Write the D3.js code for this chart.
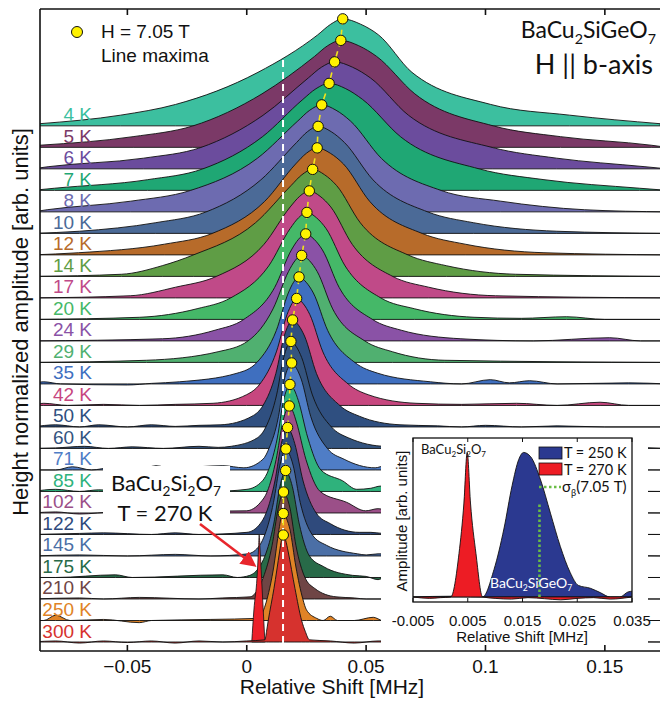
<!DOCTYPE html>
<html>
<head>
<meta charset="utf-8">
<script src="https://cdn.jsdelivr.net/npm/d3@7"></script>
<style>
  body { margin: 0; background: #fff; }
  svg { display: block; }
  text { font-family: "Liberation Sans", Arial, sans-serif; }
  .myr { font-family: Lato, "Liberation Sans", sans-serif; }
</style>
</head>
<body>
<div id="chart"></div>
<script>
const width = 660, height = 704;

// temperatures, colours and line maxima
const temps = ["4 K","5 K","6 K","7 K","8 K","10 K","12 K","14 K","17 K","20 K","24 K","29 K","35 K",
  "42 K","50 K","60 K","71 K","85 K","102 K","122 K","145 K","175 K","210 K","250 K","300 K"];
const colors = ["#3cbf9f","#7b3967","#6b4c9d","#1fa774","#6d6bb0","#4b6a97","#b76b2a","#5f9d45","#c04a88",
  "#45b868","#8a52a6","#50b070","#3f6fbf","#c7477f","#2f4f80","#34547f","#4f7dc6","#2fb27c","#9b4f88",
  "#2f4a7c","#4b6fa6","#286a48","#6f4545","#e08326","#d6322e"];
const peakShift = [0.0402,0.0394,0.0368,0.0345,0.0314,0.0299,0.0295,0.0276,0.0262,0.0252,0.0247,0.0230,
  0.0219,0.0209,0.0192,0.0185,0.0188,0.0181,0.0178,0.0171,0.0164,0.0163,0.0154,0.0153,0.0153];

// distance (MHz) from the maximum where each line drops to these fractions of its height
const levels = [0.95, 0.85, 0.5, 0.2, 0.1, 0.02];
const leftWidth = [
  [.005,.0105,.0355,.070,.093,.127],[.0055,.011,.033,.062,.087,.126],[.0055,.011,.030,.056,.080,.12],
  [.0055,.011,.028,.053,.076,.115],[.005,.010,.027,.055,.080,.115],[.0045,.009,.024,.047,.068,.10],
  [.0045,.009,.022,.044,.064,.10],[.0045,.009,.024,.050,.063,.080],[.004,.008,.019,.039,.056,.075],
  [.0035,.007,.016,.032,.046,.07],[.003,.006,.013,.026,.038,.06],[.0028,.0055,.012,.0225,.035,.065],
  [.0023,.0045,.0095,.0177,.026,.05],[.002,.004,.0085,.0154,.021,.035],[.0018,.0035,.007,.0124,.017,.030],
  [.0016,.003,.006,.0105,.014,.025],[.0016,.003,.0055,.0095,.012,.02],[.0014,.0027,.0053,.009,.0115,.018],
  [.0014,.0027,.0055,.0092,.012,.018],[.0013,.0026,.0053,.009,.0115,.017],[.0013,.0025,.0052,.0088,.011,.016],
  [.0012,.0024,.005,.0087,.011,.015],[.0011,.0022,.0048,.0085,.0105,.014],[.001,.0018,.004,.0068,.0082,.0105],
  [.0008,.0015,.0039,.0063,.0070,.0077]
];
const rightWidth = [
  [.0075,.015,.029,.062,.095,.133],[.0075,.015,.031,.064,.092,.13],[.0075,.015,.031,.066,.093,.13],
  [.007,.014,.030,.063,.090,.13],[.006,.012,.025,.050,.075,.11],[.0055,.011,.023,.046,.065,.10],
  [.0055,.011,.022,.044,.062,.095],[.005,.010,.020,.040,.056,.085],[.0045,.009,.018,.035,.050,.078],
  [.004,.008,.016,.031,.045,.07],[.0035,.007,.014,.028,.040,.065],[.0033,.0065,.013,.0265,.038,.06],
  [.003,.006,.012,.0234,.033,.055],[.0028,.0055,.011,.0216,.030,.05],[.0025,.005,.010,.0198,.028,.045],
  [.0023,.0045,.009,.017,.024,.04],[.002,.004,.008,.015,.022,.035],[.0018,.0035,.0075,.013,.022,.028],
  [.0015,.003,.007,.013,.024,.032],[.0015,.003,.0065,.012,.018,.03],[.0015,.003,.006,.011,.017,.03],
  [.0014,.0028,.0057,.010,.016,.028],[.0014,.0027,.0052,.009,.013,.022],[.0014,.0028,.0053,.0082,.0097,.014],
  [.001,.002,.0049,.0077,.0092,.011]
];
// small wiggles of the baseline [shift, fraction]
const ripples = [
  [],[],[],[],[],[],[],[],[],
  [[0.115,0.01],[0.134,0.025],[0.15,0.0]],
  [[0.12,0.0],[0.152,0.03],[0.165,0.0]],
  [],
  [[-0.085,0.02],[-0.078,0.0],[-0.05,-0.01],[-0.04,0.005],[0.09,0.0],[0.102,0.04],[0.11,0.01],[0.1185,0.03],[0.13,0.0],[0.16,0.01]],
  [[-0.085,0.02],[-0.075,0.0],[-0.06,0.01],[-0.045,0.0],[-0.03,0.01],[0.09,0.01],[0.113,0.02],[0.13,0.0],[0.148,0.03],[0.16,0.0]],
  [[-0.08,0.02],[-0.07,0.0],[-0.062,0.02],[-0.05,0.0],[-0.04,0.02],[-0.03,0.005],[-0.02,0.015],[0.08,0.01],[0.09,0.0],[0.1,0.015],[0.115,0.0],[0.13,0.01],[0.15,0.0]],
  [[-0.08,0.005],[-0.068,0.02],[-0.058,0.0],[-0.048,0.015],[-0.035,0.0],[-0.02,0.02],[-0.012,0.01],[0.065,0.03],[0.08,0.0],[0.1,0.01],[0.13,0.0],[0.16,0.01]],
  [[-0.08,0.0],[-0.073,0.03],[-0.065,0.0],[-0.057,0.02],[-0.045,0.0],[-0.038,0.04],[-0.031,0.01],[-0.02,0.03],[-0.01,0.04],[0.058,0.04],[0.063,0.01]],
  [[-0.08,0.02],[-0.07,0.0],[-0.062,0.015],[-0.05,0.0],[-0.03,0.01],[-0.015,0.0],[0.052,0.03],[0.056,0.05],[0.06,0.02]],
  [[-0.08,0.01],[-0.07,-0.01],[-0.055,0.01],[-0.04,0.0],[-0.02,0.015],[0.055,0.04],[0.06,0.02]],
  [[-0.07,0.01],[-0.06,0.015],[-0.04,0.0],[-0.03,0.015],[-0.02,0.0],[0.052,0.02],[0.057,0.01]],
  [[-0.07,0.01],[-0.05,0.0],[-0.03,0.015],[-0.015,0.0],[0.05,0.01],[0.055,0.02]],
  [[-0.08,0.0],[-0.055,0.025],[-0.048,0.0],[-0.01,0.025],[-0.004,0.0],[0.05,0.01],[0.055,-0.02],[0.058,0.0]],
  [[-0.07,0.01],[-0.06,0.0],[-0.045,0.015],[-0.02,0.0],[-0.01,0.01],[0.045,0.01],[0.05,0.0]],
  [[-0.085,0.0],[-0.08,0.05],[-0.074,0.0],[-0.06,0.01],[-0.045,-0.02],[-0.04,0.0],[-0.015,0.01],[0.032,0.0],[0.035,0.04],[0.038,0.0],[0.045,0.0],[0.053,0.03],[0.057,0.0]],
  [[-0.08,0.01],[-0.07,-0.01],[-0.06,0.01],[-0.05,-0.005],[-0.04,0.01],[-0.03,-0.01],[-0.02,0.01],[-0.01,0.0],[0.0,0.01],[0.035,0.01],[0.045,-0.01],[0.055,0.01]]
];
// BaCu2Si2O7 reference line at 270 K, drawn on the 300 K row
const refShift = [0.0021,0.0030,0.0043,0.0050,0.0052,0.0055,0.0062,0.0069,0.0076];
const refAmp   = [0,0.3,0.6,0.9,1,0.9,0.6,0.3,0];

// inset: BaCu2SiGeO7 at 250 K and BaCu2Si2O7 at 270 K
const inShift250 = [-0.005,0.002,0.0077,0.0098,0.0116,0.0131,0.0143,0.0152,0.0165,0.0183,0.0201,0.0219,0.0237,0.0252,0.0274,0.0292,0.031,0.0328,0.0343,0.0352];
const inAmp250   = [0,0.005,0,0.19,0.47,0.77,0.95,1,0.97,0.81,0.58,0.35,0.17,0.08,0.06,0.03,0,0,0.035,0.04];
const inShift270 = [-0.005,-0.002,0,0.0019,0.0034,0.0043,0.0049,0.0055,0.0065,0.0077,0.010,0.013,0.016,0.019,0.022,0.025,0.028,0.031,0.035];
const inAmp270   = [0,-0.01,-0.005,0,0.3,0.65,1,0.65,0.3,0,-0.01,-0.015,-0.005,-0.012,-0.02,-0.01,-0.005,-0.015,0];
const sigmaBeta = 0.0181, sigmaHeight = 0.65;

const xTicks = [-0.05, 0, 0.05, 0.1, 0.15];
const xTickLabels = ["\u22120.05","0","0.05","0.1","0.15"];
const inTicks = [-0.005, 0.005, 0.015, 0.025, 0.035];
const inTickLabels = ["-0.005","0.005","0.015","0.025","0.035"];

const rowStep = 0.201;
const xDomain = [-0.0866, 0.1731];
const x = d3.scaleLinear().domain(xDomain).range([40, 660]);
const y = d3.scaleLinear().domain([-0.084, 5.916]).range([651, 9]);
const base = i => (temps.length - 1 - i) * rowStep;

const svg = d3.select("#chart").append("svg")
  .attr("width", width).attr("height", height);

const defs = svg.append("defs");
defs.append("clipPath").attr("id", "plotclip")
  .append("rect").attr("x", 40).attr("y", 9).attr("width", 620).attr("height", 642);
defs.append("marker").attr("id", "arrowhead")
  .attr("viewBox", "0 0 10 10").attr("refX", 8).attr("refY", 5)
  .attr("markerWidth", 6).attr("markerHeight", 6).attr("orient", "auto")
  .append("path").attr("d", "M0,0L10,5L0,10z").attr("fill", "#e8262c");

// chemical formula with subscript digits
function chem(text, parts, size) {
  let down = false;
  parts.forEach(p => {
    const sub = /^[0-9β]$/.test(p);
    const t = text.append("tspan").text(p);
    if (sub) {
      t.attr("font-size", size * 0.62);
      if (!down) { t.attr("dy", size * 0.24); down = true; }
    } else if (down) {
      t.attr("dy", -size * 0.24); down = false;
    }
  });
}

function profile(i) {
  const c = peakShift[i], lw = leftWidth[i], rw = rightWidth[i];
  const pts = [];
  for (let j = levels.length - 1; j >= 0; j--) pts.push([c - lw[j], levels[j]]);
  pts.push([c, 1]);
  for (let j = 0; j < levels.length; j++) pts.push([c + rw[j], levels[j]]);
  const lo = c - lw[lw.length - 1], hi = c + rw[rw.length - 1];
  ripples[i].forEach(p => { if (p[0] < lo || p[0] > hi) pts.push(p); });
  pts.sort((a, b) => a[0] - b[0]);
  if (pts[0][0] > xDomain[0]) pts.unshift([xDomain[0] - 0.003, 0]);
  if (pts[pts.length - 1][0] < xDomain[1]) pts.push([xDomain[1] + 0.003, 0]);
  return pts;
}

const plot = svg.append("g").attr("clip-path", "url(#plotclip)");

temps.forEach((t, i) => {
  const b = base(i);
  const area = d3.area()
    .x(d => x(d[0]))
    .y0(y(b))
    .y1(d => y(b + d[1]))
    .curve(d3.curveMonotoneX);
  if (i === temps.length - 1) {
    plot.append("path")
      .datum(refShift.map((s, k) => [s, refAmp[k]]))
      .attr("d", area)
      .attr("fill", "#ec2028").attr("stroke", "#111").attr("stroke-width", 0.8);
  }
  plot.append("path")
    .datum(profile(i))
    .attr("d", area)
    .attr("fill", colors[i])
    .attr("stroke", "#111")
    .attr("stroke-width", 0.9)
    .attr("stroke-linejoin", "round");
});

// reference shift and line maxima
plot.append("line")
  .attr("x1", x(0.0152)).attr("x2", x(0.0152))
  .attr("y1", 12).attr("y2", y(0) + 2)
  .attr("stroke", "#fff").attr("stroke-width", 2).attr("stroke-dasharray", "7,5");

const maxima = peakShift.map((s, i) => [s, base(i) + 1]);
plot.append("path")
  .datum(maxima)
  .attr("d", d3.line().x(d => x(d[0])).y(d => y(d[1])))
  .attr("fill", "none").attr("stroke", "#f2e51c").attr("stroke-width", 1.6)
  .attr("stroke-dasharray", "6,5");
plot.selectAll("circle.max").data(maxima).enter().append("circle")
  .attr("class", "max")
  .attr("cx", d => x(d[0])).attr("cy", d => y(d[1]))
  .attr("r", 5.2).attr("fill", "#fff200").attr("stroke", "#111").attr("stroke-width", 1);

// temperature labels
svg.selectAll("text.temp").data(temps).enter().append("text")
  .attr("class", "temp")
  .attr("x", 92).attr("y", (d, i) => y(base(i)) - 4.5)
  .attr("text-anchor", "end").attr("font-size", 19)
  .attr("fill", (d, i) => colors[i])
  .text(d => d);

// frame and ticks
const frame = svg.append("g").attr("stroke", "#111").attr("stroke-width", 1.6);
frame.append("line").attr("x1", 40).attr("x2", 660).attr("y1", 9).attr("y2", 9);
frame.append("line").attr("x1", 40).attr("x2", 660).attr("y1", 651).attr("y2", 651);
frame.append("line").attr("x1", 40).attr("x2", 40).attr("y1", 9).attr("y2", 651);
xTicks.forEach(v => {
  frame.append("line").attr("x1", x(v)).attr("x2", x(v)).attr("y1", 9).attr("y2", 15);
  frame.append("line").attr("x1", x(v)).attr("x2", x(v)).attr("y1", 651).attr("y2", 645);
});
svg.selectAll("text.xtick").data(xTicks).enter().append("text")
  .attr("class", "xtick")
  .attr("x", d => x(d)).attr("y", 673)
  .attr("text-anchor", "middle").attr("font-size", 19).attr("fill", "#111")
  .text((d, i) => xTickLabels[i]);
svg.append("text").attr("x", 332).attr("y", 694)
  .attr("text-anchor", "middle").attr("font-size", 21).attr("fill", "#111")
  .text("Relative Shift [MHz]");
svg.append("text").attr("transform", "translate(28,322) rotate(-90)")
  .attr("text-anchor", "middle").attr("font-size", 22).attr("fill", "#111")
  .text("Height normalized amplitude [arb. units]");

// legend
svg.append("circle").attr("cx", 77).attr("cy", 32).attr("r", 5.5)
  .attr("fill", "#fff200").attr("stroke", "#111").attr("stroke-width", 1);
svg.append("text").attr("x", 101).attr("y", 38).attr("font-size", 19).attr("fill", "#111").text("H = 7.05 T");
svg.append("text").attr("x", 101).attr("y", 62).attr("font-size", 19).attr("fill", "#111").text("Line maxima");

chem(svg.append("text").attr("class", "myr").attr("x", 656).attr("y", 38)
  .attr("text-anchor", "end").attr("font-size", 23).attr("fill", "#111"),
  ["BaCu","2","SiGeO","7"], 23);
svg.append("text").attr("class", "myr").attr("x", 653).attr("y", 74)
  .attr("text-anchor", "end").attr("font-size", 27).attr("fill", "#111").text("H || b-axis");

// annotation of the BaCu2Si2O7 line
svg.append("rect").attr("x", 103).attr("y", 466).attr("width", 127).attr("height", 60).attr("fill", "#fff");
chem(svg.append("text").attr("class", "myr").attr("x", 166).attr("y", 491)
  .attr("text-anchor", "middle").attr("font-size", 22).attr("fill", "#111"),
  ["BaCu","2","Si","2","O","7"], 22);
svg.append("text").attr("class", "myr").attr("x", 165).attr("y", 521)
  .attr("text-anchor", "middle").attr("font-size", 22).attr("fill", "#111").text("T = 270 K");
svg.append("line").attr("x1", 200).attr("y1", 524).attr("x2", 254).attr("y2", 565)
  .attr("stroke", "#e8262c").attr("stroke-width", 2.6).attr("marker-end", "url(#arrowhead)");

// inset
const ix = d3.scaleLinear().domain([-0.005, 0.035]).range([413, 632]);
const iy = d3.scaleLinear().domain([-0.035, 1.1]).range([602, 438]);
const inset = svg.append("g");
inset.append("rect").attr("x", 381).attr("y", 429).attr("width", 267).attr("height", 215).attr("fill", "#fff");
defs.append("clipPath").attr("id", "insetclip")
  .append("rect").attr("x", 413).attr("y", 438).attr("width", 219).attr("height", 164);
const ig = inset.append("g").attr("clip-path", "url(#insetclip)");
const iArea = d3.area().x(d => ix(d[0])).y0(iy(0)).y1(d => iy(d[1])).curve(d3.curveMonotoneX);
ig.append("path").datum(inShift250.map((s, k) => [s, inAmp250[k]])).attr("d", iArea)
  .attr("fill", "#2b3990").attr("stroke", "#111").attr("stroke-width", 0.9);
ig.append("path").datum(inShift270.map((s, k) => [s, inAmp270[k]])).attr("d", iArea)
  .attr("fill", "#ed1c24").attr("stroke", "#111").attr("stroke-width", 0.9);
ig.append("line").attr("x1", ix(sigmaBeta)).attr("x2", ix(sigmaBeta))
  .attr("y1", iy(0)).attr("y2", iy(sigmaHeight))
  .attr("stroke", "#6abd45").attr("stroke-width", 2.6).attr("stroke-dasharray", "2.5,2.5");
chem(ig.append("text").attr("class", "myr").attr("x", 490).attr("y", 588)
  .attr("font-size", 14).attr("fill", "#fff"), ["BaCu","2","SiGeO","7"], 14);
chem(inset.append("text").attr("class", "myr").attr("x", 421).attr("y", 454)
  .attr("font-size", 13).attr("fill", "#111"), ["BaCu","2","Si","2","O","7"], 13);

inset.append("rect").attr("x", 413).attr("y", 438).attr("width", 219).attr("height", 164)
  .attr("fill", "none").attr("stroke", "#111").attr("stroke-width", 1.3);
inTicks.forEach(v => {
  inset.append("line").attr("x1", ix(v)).attr("x2", ix(v)).attr("y1", 602).attr("y2", 598).attr("stroke", "#111");
  inset.append("line").attr("x1", ix(v)).attr("x2", ix(v)).attr("y1", 438).attr("y2", 442).attr("stroke", "#111");
});
inset.selectAll("text.itick").data(inTicks).enter().append("text")
  .attr("class", "itick")
  .attr("x", d => ix(d)).attr("y", 626)
  .attr("text-anchor", "middle").attr("font-size", 15).attr("fill", "#111")
  .text((d, i) => inTickLabels[i]);
inset.append("text").attr("x", 522).attr("y", 642)
  .attr("text-anchor", "middle").attr("font-size", 15).attr("fill", "#111")
  .text("Relative Shift [MHz]");
inset.append("text").attr("transform", "translate(407,521) rotate(-90)")
  .attr("text-anchor", "middle").attr("font-size", 15).attr("fill", "#111")
  .text("Amplitude [arb. units]");

// inset legend
inset.append("rect").attr("x", 539).attr("y", 447).attr("width", 23).attr("height", 12)
  .attr("fill", "#2b3990").attr("stroke", "#111").attr("stroke-width", 0.8);
inset.append("rect").attr("x", 539).attr("y", 463).attr("width", 23).attr("height", 12)
  .attr("fill", "#ed1c24").attr("stroke", "#111").attr("stroke-width", 0.8);
inset.append("line").attr("x1", 539).attr("x2", 561).attr("y1", 487).attr("y2", 487)
  .attr("stroke", "#6abd45").attr("stroke-width", 2.6).attr("stroke-dasharray", "2.5,2.5");
inset.append("text").attr("class", "myr").attr("x", 564).attr("y", 458).attr("font-size", 14.5).attr("fill", "#111").text("T = 250 K");
inset.append("text").attr("class", "myr").attr("x", 564).attr("y", 475).attr("font-size", 14.5).attr("fill", "#111").text("T = 270 K");
const sig = inset.append("text").attr("class", "myr").attr("x", 562).attr("y", 492).attr("font-size", 15).attr("fill", "#111");
chem(sig, ["σ","β","(7.05 T)"], 15);
</script>
</body>
</html>
